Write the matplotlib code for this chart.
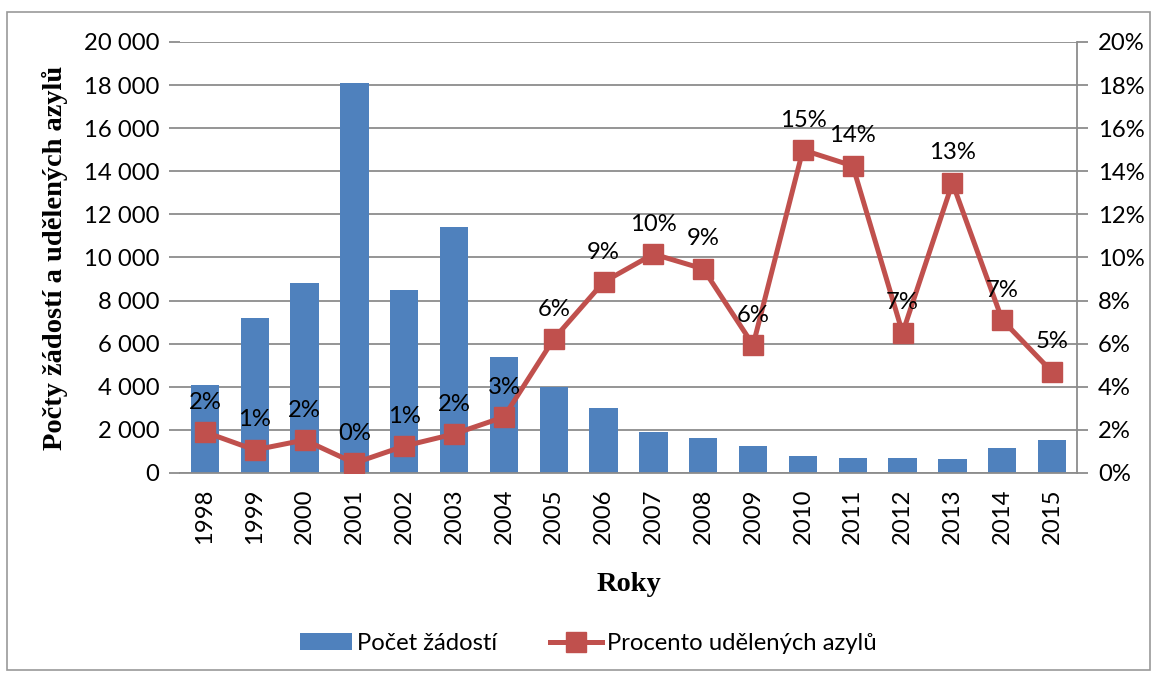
import matplotlib.pyplot as plt
from matplotlib.ticker import FuncFormatter, PercentFormatter
from matplotlib.patches import Rectangle

years = ["1998", "1999", "2000", "2001", "2002", "2003", "2004", "2005", "2006",
         "2007", "2008", "2009", "2010", "2011", "2012", "2013", "2014", "2015"]
zadosti = [4100, 7200, 8800, 18100, 8500, 11400, 5400, 4000, 3000,
           1900, 1620, 1250, 790, 700, 700, 650, 1160, 1530]
procento = [1.9, 1.07, 1.53, 0.46, 1.25, 1.81, 2.6, 6.22, 8.86,
            10.16, 9.47, 5.94, 14.99, 14.25, 6.5, 13.46, 7.1, 4.69]
popisky = ["2%", "1%", "2%", "0%", "1%", "2%", "3%", "6%", "9%",
           "10%", "9%", "6%", "15%", "14%", "7%", "13%", "7%", "5%"]

blue = "#4f81bd"
red = "#c0504d"
grid = "#8c8c8c"
sans = "Lato"
serif = "Liberation Serif"
fs = 17.2

fig = plt.figure(figsize=(11.53, 6.76), dpi=100)
fig.patches.append(Rectangle((7 / 1153, 6 / 676), 1143 / 1153, 658 / 676,
                             transform=fig.transFigure, fill=False,
                             edgecolor="#999999", linewidth=1.2))

ax = fig.add_axes([0.1561, 0.3003, 0.778, 0.6376])
x = range(len(years))
bars = ax.bar(x, zadosti, width=0.57, color=blue, label="Počet žádostí", zorder=2)
ax.set_xlim(-0.5, len(years) - 0.5)
ax.set_ylim(0, 20000)
ax.set_yticks(range(0, 20001, 2000))
ax.yaxis.set_major_formatter(FuncFormatter(lambda v, p: f"{int(v):,}".replace(",", " ")))
ax.grid(axis="y", color=grid, linewidth=1.3, zorder=0)
ax.set_axisbelow(True)
ax.set_xticks(list(x))
ax.set_xticklabels(years, rotation=90, fontfamily=sans, fontsize=fs)
ax.tick_params(axis="x", length=0, pad=11)
ax.tick_params(axis="y", length=8, color=grid, width=1.3, labelsize=fs, pad=7)
for lbl in ax.get_yticklabels():
    lbl.set_fontfamily(sans)
for s in ["top", "right", "left"]:
    ax.spines[s].set_visible(False)
ax.spines["bottom"].set_color(grid)
ax.spines["bottom"].set_linewidth(1.3)
ax.set_ylabel("Počty žádostí a udělených azylů", fontfamily=serif,
              fontweight="bold", fontsize=20.5, labelpad=11)
ax.set_xlabel("Roky", fontfamily=serif, fontweight="bold", fontsize=20.5, labelpad=20)

ax2 = ax.twinx()
line, = ax2.plot(x, procento, color=red, linewidth=3.6, marker="s", markersize=14,
                 label="Procento udělených azylů", zorder=3)
ax2.set_ylim(0, 20)
ax2.set_yticks(range(0, 21, 2))
ax2.yaxis.set_major_formatter(PercentFormatter(decimals=0))
ax2.tick_params(axis="y", length=8, color=grid, width=1.3, labelsize=fs, pad=7)
for lbl in ax2.get_yticklabels():
    lbl.set_fontfamily(sans)
for s in ["top", "left", "bottom"]:
    ax2.spines[s].set_visible(False)
ax2.spines["right"].set_color(grid)
ax2.spines["right"].set_linewidth(1.3)

for xi, v, t in zip(x, procento, popisky):
    ax2.annotate(t, (xi, v), xytext=(0, 14), textcoords="offset points",
                 ha="center", va="bottom", fontfamily=sans, fontsize=fs)

fig.legend([bars, line], ["Počet žádostí", "Procento udělených azylů"],
           loc="center", bbox_to_anchor=(0.51, 0.048), ncol=2, frameon=False,
           prop={"family": sans, "size": fs}, handlelength=2.2, columnspacing=2.2,
           handletextpad=0.2)

fig.savefig("out.png", dpi=100)
